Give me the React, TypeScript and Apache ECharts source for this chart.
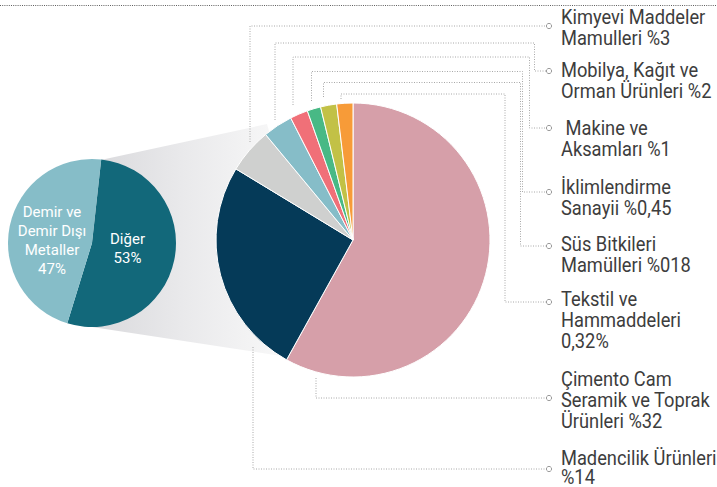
import React, { useEffect, useRef } from "react";
import * as echarts from "echarts";

// ---- data ----
const mainNames = [
  "Çimento Cam Seramik ve Toprak Ürünleri",
  "Madencilik Ürünleri",
  "Kimyevi Maddeler Mamulleri",
  "Mobilya, Kağıt ve Orman Ürünleri",
  "Makine ve Aksamları",
  "İklimlendirme Sanayii",
  "Süs Bitkileri Mamülleri",
  "Tekstil ve Hammaddeleri",
];
const mainValues = [58, 25.6, 5.3, 3.5, 2.1, 1.6, 1.9, 1.9];
const mainColors = ["#d69fa9", "#053a58", "#cfd0cf", "#86bdc8", "#f07078", "#48b985", "#c2c146", "#f79b38"];

const subNames = ["Diğer", "Demir ve\nDemir Dışı\nMetaller"];
const subValues = [53, 47];
const subColors = ["#12687a", "#86bdc8"];

const labelLines: string[][] = [
  ["Kimyevi Maddeler", "Mamulleri %3"],
  ["Mobilya, Kağıt ve", "Orman Ürünleri %2"],
  [" Makine ve", "Aksamları %1"],
  ["İklimlendirme", "Sanayii %0,45"],
  ["Süs Bitkileri", "Mamülleri %018"],
  ["Tekstil ve", "Hammaddeleri", "0,32%"],
  ["Çimento Cam", "Seramik ve Toprak", "Ürünleri %32"],
  ["Madencilik Ürünleri", "%14"],
];

// ---- layout ----
const FONT = "Roboto, 'Noto Sans', sans-serif";
const labelTop = [17, 70, 128, 187, 244, 299, 379, 458]; // centre of first line
const labelLH = [21, 21, 21, 21, 21, 21, 21, 19];
const circleY = [26, 71, 128, 192, 246, 302, 398, 469];
const CIRCLE_X = 549;
const TEXT_X = 561;
const subLabelPos = [[127.5, 229.5], [52, 202.5]]; // centre x, top y

// leader line paths (layout)
const leaders: number[][][] = [
  [[250, 142], [250, 26], [CIRCLE_X - 3, 26]],
  [[275, 120], [275, 43], [534.5, 43], [534.5, 71], [CIRCLE_X - 3, 71]],
  [[293, 105], [293, 57], [529.5, 57], [529.5, 128], [CIRCLE_X - 3, 128]],
  [[311.5, 101], [311.5, 71.5], [522.5, 71.5], [522.5, 192], [CIRCLE_X - 3, 192]],
  [[323.5, 97], [323.5, 82.5], [520.5, 82.5], [520.5, 246], [CIRCLE_X - 3, 246]],
  [[341, 99], [341, 94], [505, 94], [505, 302], [CIRCLE_X - 3, 302]],
  [[316, 378], [316, 398], [CIRCLE_X - 3, 398]],
  [[253, 347], [253, 469], [CIRCLE_X - 3, 469]],
];

export default function App() {
  const ref = useRef<HTMLDivElement>(null);
  useEffect(() => {
    if (!ref.current) return;
    const chart = echarts.init(ref.current, undefined, { renderer: "svg" });
    const lineStyle = { stroke: "#a8a8a8", lineWidth: 1, lineDash: [1, 1.5], fill: null };
    const graphics: any[] = [
      {
        type: "polygon",
        z: 0,
        shape: { points: [[96, 161], [267, 124], [300, 240], [288, 357], [92, 327], [92, 243]] },
        style: {
          fill: {
            type: "linear", x: 92, y: 0, x2: 290, y2: 0, global: true,
            colorStops: [
              { offset: 0, color: "#d9d9dc" },
              { offset: 0.45, color: "#e9e9eb" },
              { offset: 1, color: "#f9f9f9" },
            ],
          },
        },
      },
      {
        type: "line", z: 10,
        shape: { x1: 0, y1: 5.5, x2: 717, y2: 5.5 },
        style: { stroke: "#5f5f5f", lineWidth: 1, lineDash: [1, 1.2] },
      },
    ];
    leaders.forEach((pts) => {
      graphics.push({ type: "polyline", z: 10, shape: { points: pts }, style: lineStyle });
    });
    circleY.forEach((cy) => {
      graphics.push({
        type: "circle", z: 11,
        shape: { cx: CIRCLE_X, cy, r: 2.6 },
        style: { fill: "#fff", stroke: "#9a9a9a", lineWidth: 1 },
      });
    });
    labelLines.forEach((lines, i) => {
      graphics.push({
        type: "text", z: 11,
        x: TEXT_X,
        y: labelTop[i] - labelLH[i] / 2,
        scaleX: 0.87,
        style: {
          text: lines.join("\n"),
          x: 0,
          y: 0,
          fill: "#3d3d3d",
          fontSize: 21,
          fontFamily: FONT,
          lineHeight: labelLH[i],
          align: "left",
          verticalAlign: "top",
        },
      });
    });
    subNames.forEach((n, i) => {
      graphics.push({
        type: "text", z: 20,
        style: {
          text: `${n}\n${subValues[i]}%`,
          x: subLabelPos[i][0],
          y: subLabelPos[i][1],
          fill: "#ffffff",
          fontSize: 15,
          fontFamily: FONT,
          lineHeight: 19,
          align: "center",
          verticalAlign: "top",
        },
      });
    });

    chart.setOption({
      animation: false,
      graphic: graphics,
      series: [
        {
          type: "pie",
          z: 2,
          center: [353, 240],
          radius: [0, 137],
          startAngle: 90,
          clockwise: true,
          avoidLabelOverlap: false,
          label: { show: false },
          labelLine: { show: false },
          emphasis: { disabled: true },
          itemStyle: { borderColor: "#fff", borderWidth: 1 },
          data: mainNames.map((n, i) => ({ name: n, value: mainValues[i], itemStyle: { color: mainColors[i] } })),
        },
        {
          type: "pie",
          z: 3,
          center: [92, 243],
          radius: [0, 84],
          startAngle: 83.7,
          clockwise: true,
          avoidLabelOverlap: false,
          emphasis: { disabled: true },
          label: { show: false },
          labelLine: { show: false },
          itemStyle: { borderWidth: 0 },
          data: subNames.map((n, i) => ({ name: n, value: subValues[i], itemStyle: { color: subColors[i] } })),
        },
      ],
    });
    return () => chart.dispose();
  }, []);
  return (
    <div
      ref={ref}
      style={{ position: "fixed", left: 0, top: 0, width: 717, height: 487, background: "#fff" }}
    />
  );
}
